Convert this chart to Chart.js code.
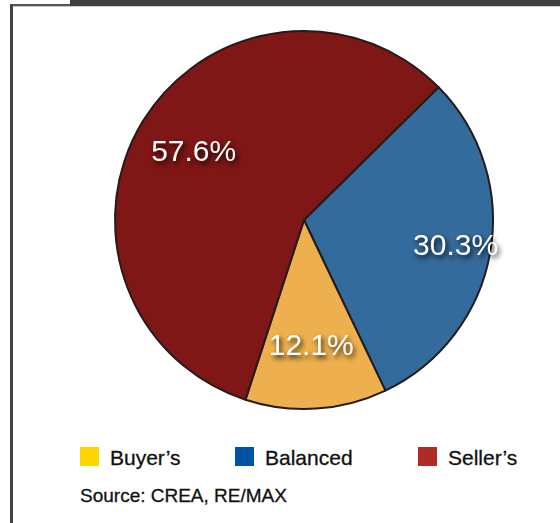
<!DOCTYPE html>
<html>
<head>
<meta charset="utf-8">
<script src="https://cdn.jsdelivr.net/npm/chart.js@4/dist/chart.umd.min.js"></script>
<style>
  html, body { margin: 0; padding: 0; background: #fff; }
  body { width: 560px; height: 523px; position: relative; overflow: hidden;
         font-family: "Liberation Sans", Arial, Helvetica, sans-serif; color: #111; }
  .bar-top { position: absolute; left: 70px; top: 0; width: 490px; height: 6px; background: #404040; }
  .rule-top { position: absolute; left: 10px; top: 4px; width: 60px; height: 2px; background: #555; }
  .rule-under { position: absolute; left: 13px; top: 6px; width: 547px; height: 1px; background: #c8c8c8; }
  .rule-left { position: absolute; left: 10px; top: 4px; width: 3px; height: 519px; background: #444; }
  #pieBox { position: absolute; left: 104px; top: 20px; width: 400px; height: 400px; }
  .legend-item { position: absolute; top: 447px; height: 19px; display: flex; align-items: center; }
  .legend-item .sw { width: 19px; height: 19px; margin-right: 11px; }
  .legend-item .tx { font-size: 21px; line-height: 19px; position: relative; top: 1px;
                     -webkit-text-stroke: 0.3px #111; }
  .source { position: absolute; left: 80px; top: 485px; font-size: 19px; -webkit-text-stroke: 0.3px #111; }
</style>
</head>
<body>
<div class="bar-top"></div>
<div class="rule-top"></div>
<div class="rule-under"></div>
<div class="rule-left"></div>
<div id="pieBox"><canvas id="pie"></canvas></div>
<div id="legend"></div>
<div class="source">Source: CREA, RE/MAX</div>
<script>
// Market balance shares (percent)
const categories = ["Buyer’s", "Balanced", "Seller’s"];
const shares = [12.1, 30.3, 57.6];
const sliceColors = ["#EEB04E", "#346B9D", "#7E1716"];
const legendColors = ["#FFD700", "#0052A4", "#B12B26"];
// wedges go clockwise starting with Balanced
const sliceOrder = [1, 0, 2];

const pieLabels = sliceOrder.map(i => categories[i]);
const pieValues = sliceOrder.map(i => shares[i]);
const pieColors = sliceOrder.map(i => sliceColors[i]);
// how far out each percentage sits along its wedge (fraction of radius)
const labelRadius = [0.82, 0.67, 0.68];

const valueLabels = {
  id: 'valueLabels',
  afterDatasetsDraw(chart) {
    const ctx = chart.ctx;
    const meta = chart.getDatasetMeta(0);
    ctx.save();
    ctx.font = '30px "Liberation Sans", Arial, sans-serif';
    ctx.fillStyle = '#ffffff';
    ctx.textAlign = 'center';
    ctx.textBaseline = 'middle';
    ctx.shadowColor = 'rgba(0,0,0,0.85)';
    ctx.shadowBlur = 5;
    ctx.shadowOffsetX = 2;
    ctx.shadowOffsetY = 3;
    meta.data.forEach((arc, i) => {
      const p = arc.getProps(['x', 'y', 'startAngle', 'endAngle', 'outerRadius'], true);
      const mid = (p.startAngle + p.endAngle) / 2;
      const r = p.outerRadius * labelRadius[i];
      const v = chart.data.datasets[0].data[i];
      ctx.fillText(v.toFixed(1) + '%', p.x + Math.cos(mid) * r - 1, p.y + Math.sin(mid) * r);
    });
    ctx.restore();
  }
};

new Chart(document.getElementById('pie'), {
  type: 'pie',
  data: {
    labels: pieLabels,
    datasets: [{
      data: pieValues,
      backgroundColor: pieColors,
      borderColor: '#241b1b',
      borderWidth: 2
    }]
  },
  options: {
    responsive: true,
    maintainAspectRatio: false,
    animation: false,
    rotation: 45.4,
    layout: { padding: 10 },
    plugins: {
      legend: { display: false },
      tooltip: { enabled: false }
    }
  },
  plugins: [valueLabels]
});

// legend row
const legendX = [80, 235, 418];
const legendEl = document.getElementById('legend');
categories.forEach((name, i) => {
  const item = document.createElement('div');
  item.className = 'legend-item';
  item.style.left = legendX[i] + 'px';
  item.innerHTML = '<span class="sw" style="background:' + legendColors[i] + '"></span><span class="tx">' + name + '</span>';
  legendEl.appendChild(item);
});
</script>
</body>
</html>
